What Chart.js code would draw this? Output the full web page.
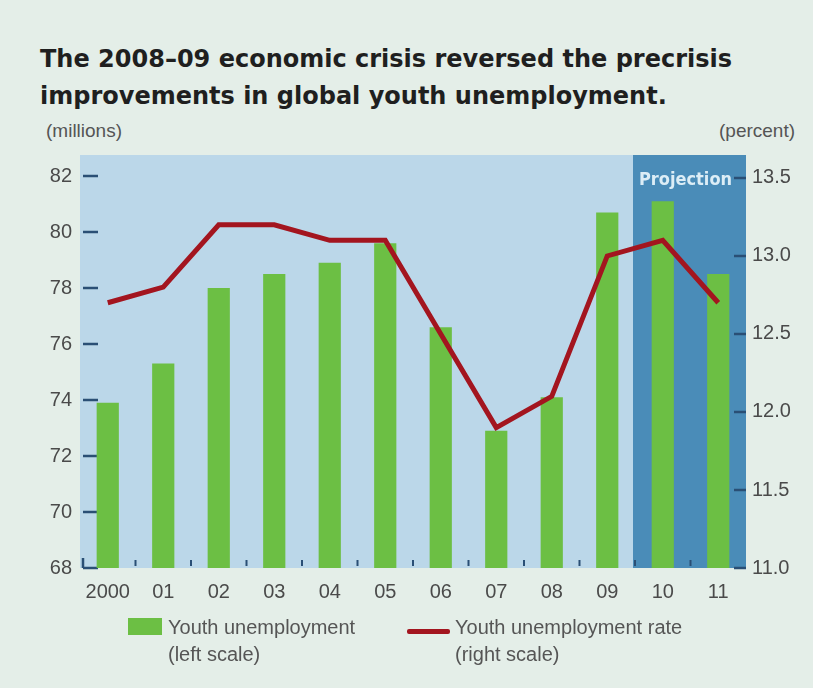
<!DOCTYPE html>
<html lang="en">
<head>
  <meta charset="UTF-8" />
  <title>Global youth unemployment</title>
  <script src="https://cdn.jsdelivr.net/npm/chart.js"></script>
  <style>
    * { box-sizing: border-box; }
    body {
      margin: 0; padding: 0;
      width: 813px; height: 688px;
      background: #e4eee8;
      font-family: "Liberation Sans", Arial, sans-serif;
      color: #4a4a4a;
      position: relative; overflow: hidden;
    }
    #title {
      position: absolute; left: 40px; top: 41px;
      font-family: "DejaVu Sans", sans-serif; font-weight: bold;
      font-size: 24px; line-height: 37px; color: #1f1f1f;
    }
    .unit { position: absolute; top: 121px; font-size: 19px; line-height: 20px; color: #555; }
    #chartBox { position: absolute; left: 0; top: 0; width: 813px; height: 688px; }
    .legTxt { position: absolute; top: 614px; font-size: 20px; line-height: 27px; color: #555; }
    .swatch { position: absolute; }
  </style>
</head>
<body>
  <div id="title">The 2008–09 economic crisis reversed the precrisis<br>improvements in global youth unemployment.</div>
  <div class="unit" style="left:46px">(millions)</div>
  <div class="unit" style="left:719px">(percent)</div>

  <div id="chartBox"><canvas id="chart"></canvas></div>

  <!-- legend -->
  <div class="swatch" style="left:128px; top:618px; width:34px; height:17px; background:#6cbf44"></div>
  <div class="legTxt" style="left:168px">Youth unemployment<br>(left scale)</div>
  <div class="swatch" style="left:407px; top:629px; width:43px; height:5px; background:#a3151f; border-radius:2px"></div>
  <div class="legTxt" style="left:455px">Youth unemployment rate<br>(right scale)</div>

  <script>
    // --- data ---
    const years      = ['2000', '01', '02', '03', '04', '05', '06', '07', '08', '09', '10', '11'];
    const youthUnemp = [73.9, 75.3, 78.0, 78.5, 78.9, 79.6, 76.6, 72.9, 74.1, 80.7, 81.1, 78.5];   // millions
    const youthRate  = [12.7, 12.8, 13.2, 13.2, 13.1, 13.1, 12.5, 11.9, 12.1, 13.0, 13.1, 12.7];   // percent
    const leftTicks  = [68, 70, 72, 74, 76, 78, 80, 82];
    const rightTicks = [11.0, 11.5, 12.0, 12.5, 13.0, 13.5];
    const projectionFrom = '10';

    const tickColor = '#2a4f75';

    // background panel, projection band and the little inner tick marks
    const deco = {
      id: 'deco',
      beforeDatasetsDraw(chart) {
        const { ctx, chartArea: a, scales } = chart;
        const x = scales.x, yL = scales.y, yR = scales.y1;
        const half = (x.getPixelForValue(1) - x.getPixelForValue(0)) / 2;
        ctx.save();
        ctx.fillStyle = '#bbd7e9';
        ctx.fillRect(a.left, a.top, a.right - a.left, a.bottom - a.top);
        const px = x.getPixelForValue(years.indexOf(projectionFrom)) - half - 2;
        ctx.fillStyle = '#4a8cb8';
        ctx.fillRect(px, a.top, a.right - px, a.bottom - a.top);
        ctx.fillStyle = '#dcedf6';
        ctx.font = 'bold 18px "DejaVu Sans Condensed", "Liberation Sans", sans-serif';
        ctx.textBaseline = 'alphabetic';
        ctx.fillText('Projection', px + 6, a.top + 30);

        ctx.strokeStyle = tickColor;
        ctx.lineWidth = 2.5;
        ctx.beginPath();
        leftTicks.forEach(v => {
          const y = yL.getPixelForValue(v);
          ctx.moveTo(a.left + 3, y); ctx.lineTo(a.left + 18, y);
        });
        rightTicks.forEach(v => {
          const y = yR.getPixelForValue(v);
          ctx.moveTo(a.right - 12, y); ctx.lineTo(a.right, y);
        });
        ctx.moveTo(a.left + 3, a.bottom - 10); ctx.lineTo(a.left + 3, a.bottom);
        ctx.stroke();
        ctx.lineWidth = 2;
        ctx.beginPath();
        for (let i = 1; i < years.length; i++) {
          const bx = x.getPixelForValue(i) - half;
          ctx.moveTo(bx, a.bottom - 8); ctx.lineTo(bx, a.bottom - 2);
        }
        ctx.stroke();
        ctx.restore();
      }
    };

    const tickFont = { family: '"Liberation Sans", Arial, sans-serif', size: 20 };

    new Chart(document.getElementById('chart'), {
      data: {
        labels: years,
        datasets: [
          {
            type: 'line',
            label: 'Youth unemployment rate',
            data: youthRate,
            yAxisID: 'y1',
            borderColor: '#a3151f',
            borderWidth: 5,
            pointRadius: 0,
            tension: 0,
            order: 0
          },
          {
            type: 'bar',
            label: 'Youth unemployment',
            data: youthUnemp,
            yAxisID: 'y',
            backgroundColor: '#6cbf44',
            barPercentage: 0.4,
            categoryPercentage: 1,
            order: 1
          }
        ]
      },
      options: {
        responsive: true,
        maintainAspectRatio: false,
        animation: false,
        layout: { padding: { top: 155, left: 0, right: 0, bottom: 0 } },
        plugins: { legend: { display: false }, tooltip: { enabled: false }, title: { display: false } },
        scales: {
          x: {
            grid: { display: false, drawTicks: false },
            border: { display: false },
            ticks: { color: '#4a4a4a', font: tickFont, padding: 12, maxRotation: 0 },
            afterFit(s) { s.height = 120; }
          },
          y: {
            position: 'left',
            min: 68, max: 82.75,
            grid: { display: false, drawTicks: false },
            border: { display: false },
            ticks: { color: '#4a4a4a', font: tickFont, padding: 8 },
            afterBuildTicks(s) { s.ticks = leftTicks.map(v => ({ value: v })); },
            afterFit(s) { s.width = 80; }
          },
          y1: {
            position: 'right',
            min: 11, max: 13.647,
            grid: { display: false, drawTicks: false },
            border: { display: false },
            ticks: { color: '#4a4a4a', font: tickFont, padding: 6, callback: v => v.toFixed(1) },
            afterBuildTicks(s) { s.ticks = rightTicks.map(v => ({ value: v })); },
            afterFit(s) { s.width = 67; }
          }
        }
      },
      plugins: [deco]
    });
  </script>
</body>
</html>
